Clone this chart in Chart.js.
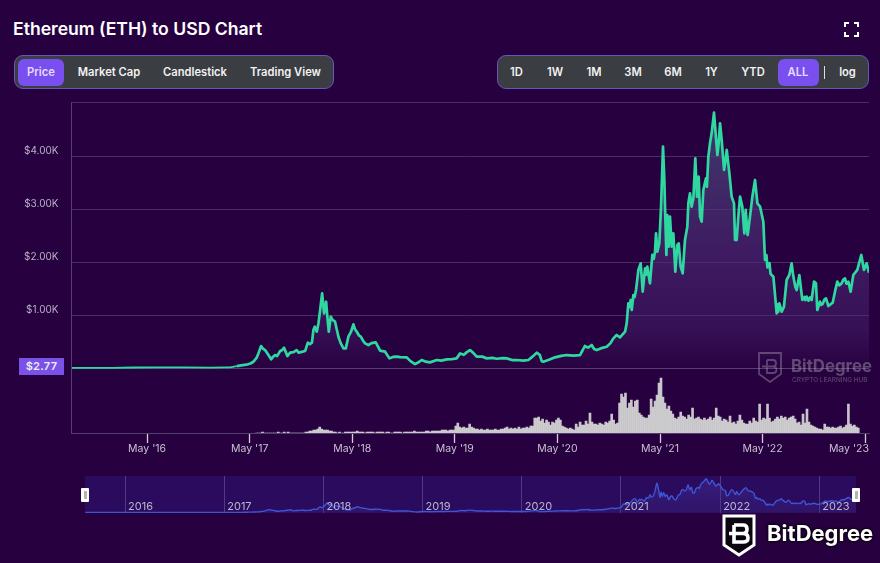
<!DOCTYPE html>
<html><head><meta charset="utf-8">
<script src="https://cdn.jsdelivr.net/npm/chart.js@4"></script>
<style>
html,body{margin:0;padding:0;background:#27013f;width:880px;height:563px;overflow:hidden;font-family:Inter,"Liberation Sans",sans-serif;color:#fff}
.abs{position:absolute}
canvas{position:absolute}
h1{position:absolute;left:13px;top:18px;margin:0;font-size:17.6px;line-height:22px;font-weight:600;white-space:nowrap}
.group{position:absolute;top:55px;height:32px;background:#3a3d42;border:1.5px solid #6a56b4;border-radius:9px}
.btn{position:absolute;top:72px;transform:translate(-50%,-50%);font-size:11.2px;font-weight:600;white-space:nowrap;color:#f2f2f2}
.active{position:absolute;top:59px;height:27px;background:#7a4ff0;border-radius:6px}
#badge{position:absolute;left:19px;top:358px;width:45px;height:17px;line-height:17px;text-align:center;background:#7b52e8;font-size:11px;font-weight:600;letter-spacing:.3px;color:#eee}
.handle{position:absolute;top:488px;width:8px;height:14px;background:#fff;border-radius:1px}
.handle:after{content:"";position:absolute;left:2.5px;top:3px;width:3px;height:8px;background:#b5b5b5}
</style></head><body>
<h1>Ethereum (ETH) to USD Chart</h1>
<svg class="abs" style="left:844px;top:22px" width="15" height="15" viewBox="0 0 15 15" fill="none" stroke="#fff" stroke-width="2"><path d="M1 5V1H5M10 1H14V5M14 10V14H10M5 14H1V10"/></svg>
<div class="group" style="left:14px;width:318px"></div>
<div class="active" style="left:18px;width:46px"></div>
<div class="btn" style="left:41px;color:#e6dcff">Price</div>
<div class="btn" style="left:109px">Market Cap</div>
<div class="btn" style="left:195px">Candlestick</div>
<div class="btn" style="left:285.500px">Trading View</div>
<div class="group" style="left:497px;width:370px"></div>
<div class="active" style="left:778px;width:41px"></div>
<div class="btn" style="left:516.500px">1D</div>
<div class="btn" style="left:555px">1W</div>
<div class="btn" style="left:594px">1M</div>
<div class="btn" style="left:633px">3M</div>
<div class="btn" style="left:673px">6M</div>
<div class="btn" style="left:711.500px">1Y</div>
<div class="btn" style="left:753px">YTD</div>
<div class="btn" style="left:798px;color:#e6dcff">ALL</div>
<div class="abs" style="left:824px;top:66px;width:1px;height:13px;background:#ddd"></div>
<div class="btn" style="left:847.500px">log</div>
<div style="position:absolute;left:85px;top:476px;width:771px;height:37px;background:#2b0b5e"></div>
<canvas id="main" width="880" height="375" style="left:0;top:95px"></canvas>
<canvas id="nav" width="880" height="43" style="left:0;top:470px"></canvas>
<div id="badge">$2.77</div>
<div class="handle" style="left:81px"></div>
<div class="handle" style="left:852px"></div>
<svg class="abs" style="left:758px;top:352px;opacity:.42" width="24" height="31" viewBox="0 0 24 31" fill="none" stroke="#a9a2b2" stroke-width="1.8"><path d="M1 1H23V22L12 30L1 22Z"/><path d="M9 8H15Q18 8 18 11.500Q18 14.500 15 14.500H9M15 14.500Q18.500 14.500 18.500 18Q18.500 21 15 21H9V8M4 14.500H15"/></svg>
<div class="abs" style="left:791px;top:355px;font-size:16.800px;line-height:22px;font-weight:700;color:#a9a2b2;opacity:.45;white-space:nowrap">BitDegree</div>
<div class="abs" style="left:792px;top:376px;font-size:6.4px;line-height:9px;font-weight:500;color:#a9a2b2;opacity:.4;white-space:nowrap">CRYPTO LEARNING HUB</div>
<svg class="abs" style="left:722px;top:514px" width="34" height="43" viewBox="0 0 34 43" fill="#0a0510" stroke="#fff" stroke-width="3"><path d="M2 2H32V31L17 41L2 31Z"/><path fill="none" stroke-width="3.600" d="M12 11H21Q25 11 25 15Q25 19.500 21 19.500H12M21 19.500Q26 19.500 26 24Q26 28 21 28H12V11M7 19.500H21"/></svg>
<div class="abs" style="left:767px;top:518px;font-size:22px;line-height:30px;font-weight:700;color:#fff;white-space:nowrap;text-shadow:0 0 3px #000,0 0 3px #000">BitDegree</div>
<script>
// Price readings: [decimal year, USD]
const price2015to2017 = [[2015.6,1],[2015.9,1],[2016.0,1],[2016.2,10],[2016.45,14],[2016.7,12],[2016.95,8],[2017.1,11],[2017.142,12],[2017.207,37],[2017.25,50],[2017.30,63],[2017.34,85],[2017.37,119],[2017.40,190],[2017.418,276],[2017.444,415],[2017.46,370],[2017.483,339],[2017.516,245],[2017.542,163],[2017.56,210],[2017.58,245],[2017.60,225],[2017.63,320],[2017.65,340],[2017.668,383],[2017.685,300],[2017.70,226],[2017.727,289],[2017.76,300],[2017.79,339],[2017.81,290],[2017.84,305],[2017.873,320],[2017.9,478],[2017.92,450],[2017.94,478],[2017.954,717],[2017.967,780],[2017.987,685]];
const price2018 = [[2018.003,842],[2018.02,1094],[2018.039,1408],[2018.058,1031],[2018.078,1251],[2018.09,968],[2018.104,685],[2018.123,968],[2018.14,910],[2018.165,874],[2018.198,591],[2018.22,470],[2018.247,371],[2018.27,371],[2018.295,591],[2018.32,680],[2018.344,824],[2018.36,730],[2018.377,685],[2018.40,610],[2018.416,591],[2018.44,510],[2018.458,465],[2018.49,434],[2018.52,470],[2018.562,484],[2018.585,400],[2018.604,327],[2018.653,308],[2018.695,182],[2018.73,210],[2018.767,214],[2018.80,205],[2018.864,201],[2018.90,130],[2018.945,75],[2018.98,110]];
const price2019to2020 = [[2019.01,151],[2019.05,120],[2019.09,107],[2019.157,151],[2019.2,140],[2019.254,163],[2019.3,165],[2019.35,182],[2019.384,276],[2019.42,250],[2019.45,300],[2019.48,339],[2019.51,290],[2019.546,214],[2019.6,215],[2019.644,182],[2019.7,190],[2019.74,175],[2019.8,185],[2019.839,182],[2019.89,150],[2019.936,151],[2020.0,140],[2020.05,151],[2020.09,215],[2020.131,289],[2020.16,250],[2020.18,130],[2020.196,119],[2020.25,155],[2020.31,201],[2020.37,230],[2020.424,245],[2020.49,235],[2020.553,245],[2020.58,340],[2020.6,415],[2020.63,385],[2020.667,434],[2020.69,360],[2020.716,339],[2020.76,375],[2020.813,402],[2020.85,470],[2020.878,560],[2020.91,623],[2020.943,579],[2020.992,686]];
const price2021 = [[2021.008,843],[2021.024,1221],[2021.036,1150],[2021.047,1284],[2021.057,1095],[2021.073,1378],[2021.085,1340],[2021.099,1472],[2021.122,1850],[2021.144,1975],[2021.155,1700],[2021.164,1441],[2021.187,1881],[2021.198,1760],[2021.209,1912],[2021.222,1750],[2021.235,1598],[2021.258,2133],[2021.272,2060],[2021.284,2195],[2021.294,2541],[2021.307,2195],[2021.326,2353],[2021.343,3045],[2021.362,4177],[2021.375,3548],[2021.385,2800],[2021.395,2133],[2021.404,2887],[2021.417,2290],[2021.430,2856],[2021.447,2290],[2021.463,2541],[2021.482,1818],[2021.502,2321],[2021.515,2353],[2021.534,1912],[2021.554,1787],[2021.576,2416],[2021.599,2667],[2021.609,3107],[2021.625,3296],[2021.641,3045],[2021.658,3202],[2021.677,3956],[2021.693,3233],[2021.71,3610],[2021.723,2856],[2021.739,2761],[2021.755,3359],[2021.781,3579],[2021.79,3420],[2021.804,3988],[2021.82,4239],[2021.836,4428],[2021.859,4818],[2021.875,4428],[2021.892,4019],[2021.905,4250],[2021.918,4617],[2021.934,4302],[2021.957,3736],[2021.97,3900],[2021.983,4114]];
const price2022 = [[2022.009,3673],[2022.031,3233],[2022.054,3107],[2022.064,2416],[2022.08,2416],[2022.096,2850],[2022.113,3233],[2022.135,3045],[2022.155,2541],[2022.168,2982],[2022.187,2510],[2022.21,2856],[2022.233,3233],[2022.259,3548],[2022.282,3107],[2022.308,3045],[2022.34,2761],[2022.356,2038],[2022.37,2130],[2022.38,1900],[2022.40,1980],[2022.41,1780],[2022.421,1755],[2022.438,1724],[2022.47,1032],[2022.478,1200],[2022.486,1060],[2022.496,1221],[2022.519,1063],[2022.541,1158],[2022.567,1661],[2022.593,1755],[2022.616,1975],[2022.628,1790],[2022.639,1661],[2022.652,1530],[2022.665,1472],[2022.691,1755],[2022.72,1284],[2022.742,1340],[2022.75,1280],[2022.762,1347],[2022.78,1270],[2022.795,1330],[2022.811,1284],[2022.834,1630],[2022.853,1600],[2022.866,1095],[2022.892,1252],[2022.905,1190],[2022.918,1208],[2022.935,1290],[2022.951,1315],[2022.974,1170]];
const price2023 = [[2023.016,1233],[2023.042,1472],[2023.061,1630],[2023.08,1560],[2023.104,1598],[2023.12,1670],[2023.136,1692],[2023.15,1590],[2023.169,1630],[2023.191,1441],[2023.217,1755],[2023.256,1850],[2023.295,2133],[2023.321,1850],[2023.347,1975],[2023.37,1799]];

// Weekly volume readings (USD bn), first week below
const volumeFirstYear = 2017.40;
const volumeWeeksPerYear = 52;
const volume2017to2018 = [0,0,0,1,0,0,0,0,0,0,0,1,0,0,1,0,1,0,0,0,0,0,0,0,0,1,1,2,2,3,3,4,6,4,3,3,3,2,2,1,1,0,1,0,0,1,1,1,1,1,1,2,1,1,1,0,1,1,1,1,0,1,1,1,1,0,1,1,0,0,1,1,1,1,0,1,1,1,1,1,2,1,1,1,1,1,2,2,1,2,2,2,2];
const volume2019 = [2,3,3,3,2,3,3,3,7,10,6,5,6,5,5,9,6,5,4,4,3,4,3,3,4,3,3,3,4,3,3,4,4,5,6,4,5,4,5,4,6,4,5,5,6,5,7,7];
const volume2020 = [15,15,16,12,14,10,13,11,8,11,10,13,15,13,7,6,5,4,5,4,3,9,6,11,8,8,12,9,20,11,9,9,8,10,9,8,11,10,12,19,13,9,10];
const volume2021 = [30,39,36,40,25,30,33,26,32,33,20,18,16,15,15,18,34,26,32,38,50,55,36,30,24,27,22,19,15,14,16,21,17,16,14,18,16,25,14,15,16,14,13,15,13,14,16,13,15,25,17,16,12,14,13,11,17];
const volume2022 = [10,11,9,12,18,13,10,9,9,12,10,15,12,11,29,13,15,14,29,15,11,12,14,16,14,17,15,16,13,15,16,17,14,10,11,8,19,10,24,11,8,7,6,5,4,4,3];
const volume2023 = [9,6,6,5,6,5,5,6,7,5,6,8,29,9,7,8,6,5];

// Axis labels and ranges
const xTickYears = [2016.333,2017.333,2018.333,2019.333,2020.333,2021.333,2022.333,2023.333];
const xTickLabels = ["May '16","May '17","May '18","May '19","May '20","May '21","May '22","May '23"];
const navYears = [2016,2017,2018,2019,2020,2021,2022,2023];
const yTickValues = [0,1000,2000,3000,4000];
const xMin = 2015.596, xMax = 2023.37;
const yMin = -1226, yMax = 5019;
const volumeAxisMax = 331;

const priceSeries = [...price2015to2017,...price2018,...price2019to2020,...price2021,...price2022,...price2023].map(p=>({x:p[0],y:p[1]}));
const volumeSeries = [...volume2017to2018,...volume2019,...volume2020,...volume2021,...volume2022,...volume2023].map((v,i)=>({x:volumeFirstYear+i/volumeWeeksPerYear,y:v}));

const labelFont = {family:'Inter, "Liberation Sans", sans-serif',size:10.5};
const grid = '#4a2d66';

new Chart(document.getElementById('main'),{
  type:'line',
  data:{datasets:[
    {type:'line',data:priceSeries,yAxisID:'y',xAxisID:'x',borderColor:'#2ed8a0',borderWidth:2.7,pointRadius:0,tension:0,borderJoinStyle:'round',fill:'origin',order:1,
     segment:{borderWidth:c=>c.p0.parsed.x<2017.2?1.8:2.7},
     backgroundColor(c){
       const ch=c.chart; if(!ch.chartArea) return 'transparent';
       const s=ch.scales.y, g=ch.ctx.createLinearGradient(0,s.getPixelForValue(4800),0,s.getPixelForValue(0));
       g.addColorStop(0,'rgba(72,78,122,.75)');g.addColorStop(.55,'rgba(78,44,120,.62)');g.addColorStop(.85,'rgba(78,40,120,.4)');g.addColorStop(1,'rgba(78,40,120,.03)');
       return g;}},
    {type:'bar',data:volumeSeries,yAxisID:'y2',xAxisID:'x',backgroundColor:'rgba(212,212,212,.93)',borderWidth:0,barThickness:2,grouped:false,order:2}
  ]},
  options:{responsive:false,animation:false,
    layout:{padding:{top:7,right:11,left:0,bottom:0}},
    plugins:{legend:{display:false},tooltip:{enabled:false}},
    scales:{
      x:{type:'linear',min:xMin,max:xMax,offset:false,
        afterFit(s){s.height=37;s.paddingLeft=0;s.paddingRight=0},
        afterBuildTicks(s){s.ticks=xTickYears.map(v=>({value:v}))},
        border:{color:'#54406e'},
        grid:{offset:false,drawOnChartArea:false,drawTicks:true,tickLength:10,tickColor:'#d4cedb',tickWidth:1.3},
        ticks:{autoSkip:false,maxRotation:0,minRotation:0,padding:0,color:'#c8c1d0',font:labelFont,
          callback(v,i){return i===xTickLabels.length-1?'':xTickLabels[i]}}},
      y:{type:'linear',min:yMin,max:yMax,position:'left',
        afterFit(s){s.width=71.5;s.paddingTop=0;s.paddingBottom=0},
        afterBuildTicks(s){s.ticks=[...yTickValues,yMax].map(v=>({value:v}))},
        border:{color:'#54406e'},
        grid:{color:c=>c.tick&&c.tick.value===0?'#5b3c7a':grid,drawTicks:false},
        ticks:{padding:13,labelOffset:-5,color:'#b9afc6',font:{family:labelFont.family,size:10},
          callback(v){return v>0&&v<yMax?'$'+(v/1000).toFixed(2)+'K':''}}},
      y2:{type:'linear',min:0,max:volumeAxisMax,display:false}
    }},
  plugins:[{id:'lastTick',afterDraw(ch){
    const c=ch.ctx,s=ch.scales.x,i=xTickLabels.length-1;
    c.save();c.font='10.5px '+labelFont.family;c.fillStyle='#c8c1d0';c.textAlign='right';c.textBaseline='middle';
    c.fillText(xTickLabels[i],s.getPixelForValue(xMax),353.500);c.restore();}}]
});

new Chart(document.getElementById('nav'),{
  type:'line',
  data:{datasets:[{data:priceSeries,borderColor:'#3e55d6',borderWidth:1.4,pointRadius:0,tension:.2,fill:'origin',
    backgroundColor(c){
      const ch=c.chart; if(!ch.chartArea) return 'transparent';
      const g=ch.ctx.createLinearGradient(0,ch.chartArea.top,0,ch.chartArea.bottom);
      g.addColorStop(0,'rgba(72,56,170,.45)');g.addColorStop(1,'rgba(62,45,140,.25)');return g;}}]},
  options:{responsive:false,animation:false,
    layout:{padding:{top:6,left:85,right:24,bottom:0}},
    plugins:{legend:{display:false},tooltip:{enabled:false}},
    scales:{
      x:{type:'linear',min:xMin,max:xMax,
        afterFit(s){s.height=0;s.paddingLeft=0;s.paddingRight=0},
        afterBuildTicks(s){s.ticks=navYears.map(v=>({value:v}))},
        border:{display:false},
        grid:{color:'#4f3a86',drawTicks:false,z:0},
        ticks:{autoSkip:false,maxRotation:0,minRotation:0,align:'start',mirror:true,labelOffset:3,padding:0,z:2,color:'#bcb6cf',font:{family:labelFont.family,size:11},
          callback(v,i){return String(navYears[i])}}},
      y:{display:false,min:-70,max:5200}
    }}
});
</script>
</body></html>
